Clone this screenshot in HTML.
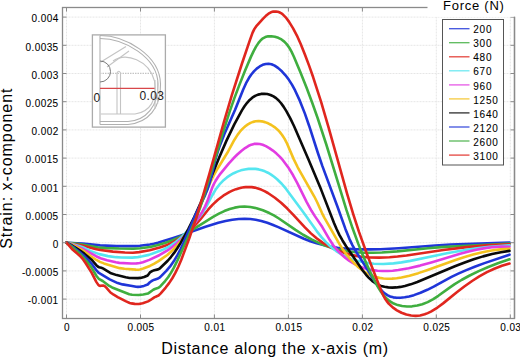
<!DOCTYPE html>
<html><head><meta charset="utf-8"><style>
html,body{margin:0;padding:0;background:#fff;width:520px;height:358px;overflow:hidden}
svg{display:block}
text{font-family:"Liberation Sans",sans-serif;fill:#000}
.tl{font-size:10px;letter-spacing:0.4px;stroke:#000;stroke-width:0.08px}
.ft{font-size:13px;letter-spacing:0.75px}
.ax{font-size:16px;letter-spacing:0.7px}
.grid{stroke:#e6e6e6;stroke-width:1;stroke-dasharray:2 1}
.tk{stroke:#8a8a8a;stroke-width:1}
.fr{stroke:#8a8a8a;stroke-width:1.3;fill:none}
.cv{fill:none;stroke-width:2.6;stroke-linejoin:round;stroke-linecap:round}
</style></head><body>
<svg width="520" height="358">
<rect width="520" height="358" fill="#fff"/>
<line x1="66.5" y1="7.5" x2="66.5" y2="318.5" class="grid"/><line x1="140.5" y1="7.5" x2="140.5" y2="318.5" class="grid"/><line x1="214.4" y1="7.5" x2="214.4" y2="318.5" class="grid"/><line x1="288.4" y1="7.5" x2="288.4" y2="318.5" class="grid"/><line x1="362.4" y1="7.5" x2="362.4" y2="318.5" class="grid"/><line x1="436.3" y1="7.5" x2="436.3" y2="318.5" class="grid"/><line x1="510.3" y1="7.5" x2="510.3" y2="318.5" class="grid"/><line x1="62.5" y1="17.1" x2="514.5" y2="17.1" class="grid"/><line x1="62.5" y1="45.3" x2="514.5" y2="45.3" class="grid"/><line x1="62.5" y1="73.5" x2="514.5" y2="73.5" class="grid"/><line x1="62.5" y1="101.7" x2="514.5" y2="101.7" class="grid"/><line x1="62.5" y1="129.9" x2="514.5" y2="129.9" class="grid"/><line x1="62.5" y1="158.1" x2="514.5" y2="158.1" class="grid"/><line x1="62.5" y1="186.3" x2="514.5" y2="186.3" class="grid"/><line x1="62.5" y1="214.5" x2="514.5" y2="214.5" class="grid"/><line x1="62.5" y1="242.7" x2="514.5" y2="242.7" class="grid"/><line x1="62.5" y1="270.9" x2="514.5" y2="270.9" class="grid"/><line x1="62.5" y1="299.1" x2="514.5" y2="299.1" class="grid"/>
<rect x="92.4" y="34.9" width="73" height="92.2" fill="#fff" stroke="#ababab" stroke-width="1.3"/><g fill="none" stroke="#b0b0b0" stroke-width="1.1"><line x1="100" y1="35.5" x2="100" y2="124.5"/><path d="M100,35.5 C125,35.5 160,55 160.5,84 C161,108 148,123 128,124.5 L100,124.5"/><path d="M100,38.5 C124,38.5 157.5,57 158,84 C158.5,106 146,120.5 128,121.5 L100,121.5"/></g><g fill="none" stroke="#c4c4c4" stroke-width="1.1"><path d="M113,61 C126,52 149,60 154.5,81 C157.5,100 150,112 135,114 L100,114"/><path d="M100,62.5 L126,46.5"/><path d="M107,67 L129,51"/><path d="M117,114 L117,73 Q118.8,69.5 120.5,73 L120.5,114"/><path d="M155,80 L155,109"/><path d="M157.6,80 L157.6,104"/><line x1="100" y1="73.4" x2="155" y2="73.4" stroke-dasharray="1.5 1"/><path d="M100,44 L100,120" stroke="#d8d8d8"/></g><path d="M100,61 A10.5,10.5 0 0 1 100,82" fill="none" stroke="#7a7a7a" stroke-width="1"/><line x1="100" y1="88.4" x2="154.6" y2="88.4" stroke="#d8474a" stroke-width="1.4"/><text x="93.4" y="101.7" style="font-size:12px;fill:#222">0</text><text x="139.6" y="100.3" style="font-size:12px;fill:#222;letter-spacing:0.3px">0.03</text>
<path d="M66.50,242.70 L82.70,243.58 L100.10,245.34 L116.70,246.16 L134.90,246.12 L139.90,245.72 L149.90,244.52 L153.90,243.78 L157.90,242.79 L173.30,237.96 L182.50,234.88 L205.50,226.73 L218.30,222.78 L225.50,221.01 L232.30,219.75 L238.70,219.01 L244.70,218.78 L250.30,219.01 L255.70,219.71 L261.30,220.94 L267.30,222.77 L272.50,224.69 L278.30,227.11 L303.90,238.75 L310.30,241.24 L316.70,243.33 L323.30,245.09 L330.30,246.57 L337.50,247.72 L345.10,248.57 L352.90,249.11 L361.30,249.40 L370.50,249.42 L380.50,249.18 L398.70,248.21 L435.30,245.45 L450.70,244.49 L509.50,242.61" stroke="#1f35d8" class="cv"/><path d="M66.50,242.70 L74.10,243.40 L82.50,244.43 L98.30,247.51 L106.30,248.11 L118.90,248.57 L133.50,248.78 L140.30,248.30 L150.10,247.01 L158.10,245.04 L165.70,242.68 L172.50,240.20 L178.90,237.36 L183.90,234.77 L189.50,231.54 L213.10,216.80 L218.90,213.63 L224.30,211.09 L229.70,209.04 L234.70,207.65 L239.70,206.80 L244.50,206.54 L250.30,206.95 L256.50,208.20 L262.90,210.25 L269.30,213.03 L273.90,215.47 L278.90,218.51 L295.50,229.91 L303.10,234.75 L311.50,239.45 L319.90,243.44 L326.90,246.19 L333.90,248.42 L341.10,250.15 L348.50,251.42 L356.10,252.25 L364.10,252.70 L372.70,252.78 L381.90,252.49 L397.10,251.40 L428.10,248.26 L441.30,247.15 L456.50,246.26 L491.90,244.66 L509.50,243.50" stroke="#3fae3f" class="cv"/><path d="M66.50,242.70 L82.30,245.55 L95.30,248.91 L100.30,249.97 L112.90,251.62 L124.90,252.48 L132.90,252.69 L139.10,252.14 L149.70,250.28 L159.70,247.58 L167.30,244.90 L173.70,241.85 L180.30,237.90 L186.50,233.30 L191.50,228.90 L196.10,224.21 L199.90,219.82 L208.30,209.48 L212.70,204.62 L217.90,199.81 L223.30,195.72 L229.70,191.91 L232.90,190.40 L236.10,189.16 L239.30,188.18 L242.30,187.52 L245.50,187.09 L248.50,186.95 L251.70,187.13 L254.70,187.60 L257.90,188.43 L261.10,189.59 L264.50,191.14 L267.90,193.01 L274.90,197.73 L281.10,202.78 L287.30,208.57 L293.10,214.55 L304.90,227.36 L310.90,233.36 L316.90,238.56 L322.90,242.89 L329.70,246.91 L336.90,250.34 L344.30,253.05 L352.10,255.13 L360.50,256.60 L369.50,257.43 L379.10,257.62 L389.50,257.18 L397.50,256.49 L406.50,255.43 L443.30,250.01 L464.70,247.36 L487.30,245.34 L509.50,244.20" stroke="#e0261e" class="cv"/><path d="M66.50,242.70 L73.10,244.12 L81.30,246.70 L83.90,247.74 L90.90,251.14 L99.30,254.11 L107.90,256.14 L116.10,257.17 L121.30,257.44 L132.10,257.60 L137.90,257.14 L142.50,256.32 L148.90,254.87 L160.10,250.82 L164.10,249.09 L167.70,247.27 L171.30,245.10 L174.90,242.64 L181.10,237.55 L187.70,230.77 L198.30,218.52 L201.70,214.16 L205.50,208.09 L212.30,195.26 L215.50,189.84 L219.50,184.40 L223.90,179.90 L226.90,177.45 L230.30,175.14 L233.70,173.23 L237.30,171.61 L240.90,170.36 L244.70,169.43 L248.50,168.88 L252.10,168.72 L255.50,168.91 L258.70,169.39 L261.90,170.21 L264.90,171.30 L267.90,172.73 L271.10,174.63 L274.10,176.76 L277.10,179.24 L281.70,183.72 L286.10,188.90 L303.70,212.79 L316.90,231.32 L321.90,237.61 L326.50,242.68 L329.70,245.77 L333.10,248.67 L336.30,251.04 L339.90,253.36 L343.90,255.57 L347.90,257.45 L352.10,259.13 L356.50,260.58 L364.90,262.58 L373.90,263.72 L383.30,263.97 L393.50,263.35 L401.50,262.36 L410.30,260.89 L446.90,253.32 L468.10,249.58 L478.90,248.04 L489.30,246.85 L499.50,245.97 L509.50,245.41" stroke="#55e6f0" class="cv"/><path d="M66.50,242.70 L73.50,244.87 L81.90,248.34 L96.10,256.22 L100.50,258.28 L107.10,260.22 L115.90,262.26 L119.30,262.86 L131.10,263.50 L136.50,263.37 L139.70,263.06 L142.90,262.20 L149.30,259.85 L159.70,254.95 L167.50,250.44 L172.50,246.79 L177.10,243.00 L181.30,239.12 L185.30,235.00 L189.10,230.66 L192.90,225.87 L199.30,216.63 L202.30,211.71 L204.50,207.66 L207.30,201.33 L212.30,187.50 L213.70,184.37 L215.50,180.99 L217.70,177.47 L220.50,173.58 L228.90,163.36 L233.30,158.53 L237.30,154.54 L241.30,150.98 L245.10,148.05 L248.30,146.05 L251.30,144.68 L254.10,143.91 L256.90,143.68 L259.70,143.96 L262.70,144.76 L265.90,146.14 L269.30,148.10 L272.90,150.61 L276.50,153.59 L279.70,156.67 L282.90,160.23 L288.10,167.16 L293.10,175.30 L297.30,183.18 L306.70,202.07 L311.50,210.78 L314.70,215.88 L322.30,227.07 L329.70,239.81 L333.10,244.98 L335.90,248.56 L338.90,251.89 L342.10,255.01 L345.50,257.93 L349.10,260.62 L352.70,262.94 L356.30,264.91 L360.10,266.63 L364.30,268.15 L368.50,269.30 L372.90,270.16 L377.50,270.73 L382.30,271.02 L387.50,271.00 L392.70,270.69 L398.30,270.07 L408.70,268.30 L420.10,265.62 L431.30,262.48 L460.10,253.79 L468.70,251.49 L476.30,249.73 L485.10,248.12 L493.50,247.08 L501.70,246.61 L509.50,246.72" stroke="#e23ce2" class="cv"/><path d="M66.50,242.70 L69.90,243.91 L73.50,245.46 L81.70,249.76 L84.30,251.46 L90.90,256.34 L96.50,259.98 L99.90,261.87 L103.90,263.40 L119.70,268.13 L124.50,268.73 L135.90,269.63 L138.10,269.70 L139.90,269.50 L143.30,268.54 L149.90,265.96 L153.90,263.89 L158.50,261.17 L167.30,254.97 L170.70,252.02 L174.10,248.73 L177.70,244.84 L181.30,240.49 L184.70,235.88 L187.70,231.34 L191.90,224.04 L195.90,215.95 L199.30,208.26 L208.10,187.18 L213.30,176.20 L217.50,168.70 L227.50,152.55 L234.30,139.94 L237.70,134.60 L240.10,131.49 L242.70,128.63 L245.30,126.27 L247.90,124.36 L250.50,122.90 L253.10,121.87 L255.70,121.26 L258.50,121.06 L261.70,121.35 L264.90,122.12 L268.10,123.33 L271.30,124.99 L274.50,127.12 L277.30,129.45 L279.70,131.91 L282.10,134.94 L284.50,138.67 L286.70,142.83 L293.70,159.13 L297.70,167.29 L314.30,196.54 L317.30,202.50 L321.90,212.82 L324.30,217.58 L339.90,244.89 L343.30,250.06 L346.70,254.70 L350.30,259.08 L353.90,262.98 L357.50,266.40 L361.30,269.53 L364.90,272.04 L368.70,274.21 L372.10,275.74 L375.70,276.97 L379.50,277.87 L383.50,278.45 L387.70,278.70 L392.10,278.62 L396.70,278.21 L401.50,277.48 L409.50,275.70 L418.30,273.13 L426.90,270.21 L455.50,259.91 L464.70,256.93 L473.10,254.51 L482.50,252.25 L491.50,250.56 L500.50,249.38 L509.50,248.70" stroke="#f4c21e" class="cv"/><path d="M66.50,242.70 L70.50,244.74 L74.90,247.30 L80.10,250.67 L84.30,253.67 L91.50,259.68 L96.30,265.16 L98.10,266.76 L99.10,267.27 L101.30,267.76 L102.90,268.42 L110.30,272.95 L116.70,275.11 L125.70,277.27 L129.50,277.95 L137.90,278.10 L140.50,277.89 L144.10,276.99 L147.70,275.44 L149.90,272.48 L152.50,270.89 L154.30,270.21 L158.10,269.38 L159.70,268.52 L167.70,260.74 L170.90,257.06 L174.10,252.91 L177.30,248.27 L180.70,242.84 L188.30,229.16 L194.30,217.01 L200.50,203.21 L219.30,157.29 L226.50,140.61 L234.30,124.32 L241.90,110.39 L244.50,106.29 L247.10,102.79 L249.70,99.94 L252.30,97.71 L255.10,95.92 L258.10,94.63 L261.10,93.92 L264.10,93.73 L267.30,94.07 L270.50,94.96 L273.50,96.37 L276.10,98.13 L278.70,100.49 L281.10,103.26 L283.70,106.88 L286.50,111.40 L290.30,118.35 L294.10,126.22 L308.50,159.40 L321.10,189.61 L333.90,222.77 L336.70,229.28 L339.50,235.07 L342.50,240.47 L346.10,246.22 L362.90,270.72 L366.10,274.79 L369.10,278.08 L372.10,280.83 L375.10,283.02 L377.90,284.59 L381.10,285.89 L384.50,286.81 L388.30,287.39 L392.30,287.59 L396.30,287.42 L400.50,286.90 L404.90,286.00 L410.70,284.36 L417.30,282.00 L454.90,266.32 L464.70,262.51 L473.70,259.32 L483.10,256.38 L492.10,254.02 L500.90,252.19 L509.50,250.90" stroke="#0a0a0a" class="cv"/><path d="M66.50,242.70 L70.30,244.98 L74.50,247.90 L79.30,251.67 L83.70,255.48 L87.30,259.06 L91.50,263.63 L96.70,270.68 L98.90,272.98 L109.70,279.38 L117.70,283.07 L122.50,284.39 L132.10,285.92 L136.10,286.75 L137.90,286.90 L140.30,286.72 L143.90,285.90 L147.70,284.45 L149.90,282.28 L152.30,280.69 L154.50,279.64 L158.10,278.51 L159.90,277.32 L166.30,270.85 L169.90,266.66 L173.90,261.05 L177.70,254.69 L180.50,249.29 L183.50,242.87 L194.90,216.17 L205.10,195.07 L207.50,189.24 L209.50,183.32 L211.30,176.70 L215.70,158.50 L217.70,151.81 L219.90,145.45 L224.30,134.34 L235.10,109.66 L243.10,89.78 L246.50,82.33 L248.90,78.03 L251.30,74.47 L253.90,71.34 L256.70,68.66 L259.70,66.43 L262.70,64.85 L265.70,63.93 L268.50,63.69 L271.50,64.21 L274.70,65.64 L278.30,68.14 L282.10,71.54 L285.50,75.30 L288.90,79.84 L292.10,84.91 L295.10,90.45 L299.90,100.91 L304.90,113.64 L309.10,125.71 L317.90,153.02 L322.30,165.89 L337.50,206.79 L345.50,229.16 L349.50,239.09 L352.50,245.34 L356.10,251.75 L368.10,270.45 L375.50,282.49 L377.90,286.02 L380.10,288.85 L382.30,291.25 L384.70,293.38 L387.30,295.15 L390.10,296.47 L393.30,297.36 L396.70,297.78 L400.50,297.77 L404.70,297.32 L409.10,296.45 L413.90,295.13 L420.50,292.78 L427.30,289.80 L433.70,286.55 L451.50,276.93 L458.30,273.65 L465.70,270.38 L474.70,266.75 L484.50,263.11 L509.50,254.70" stroke="#1f35d8" class="cv"/><path d="M66.50,242.70 L71.10,246.23 L76.70,250.95 L80.50,254.49 L83.70,257.86 L87.30,262.12 L91.50,267.57 L96.50,275.96 L98.50,278.54 L99.30,279.16 L102.70,280.99 L109.30,285.96 L112.10,287.48 L129.30,294.19 L132.10,294.71 L138.70,294.99 L143.30,294.58 L147.90,293.59 L153.30,289.73 L154.90,288.96 L158.50,287.77 L160.50,286.15 L165.10,281.05 L168.10,277.26 L171.10,272.66 L173.90,267.66 L177.70,259.86 L189.50,233.74 L196.50,217.29 L200.50,206.44 L204.50,194.25 L221.50,137.10 L229.50,112.08 L234.30,98.44 L239.50,84.60 L245.10,70.59 L250.90,56.88 L253.50,51.35 L255.90,46.92 L258.50,42.88 L260.70,40.22 L262.90,38.35 L265.30,37.10 L268.10,36.36 L271.30,36.19 L274.90,36.68 L278.30,37.78 L281.50,39.46 L284.30,41.62 L286.90,44.38 L289.30,47.74 L291.50,51.61 L293.90,56.69 L300.30,71.97 L306.50,87.58 L312.30,103.02 L317.70,118.25 L326.30,144.50 L346.50,210.18 L352.50,228.06 L358.30,243.89 L362.30,253.94 L366.50,263.76 L370.90,273.32 L375.30,282.21 L378.30,287.67 L381.10,292.06 L383.90,295.72 L386.90,298.87 L390.10,301.46 L393.70,303.56 L397.70,305.09 L402.10,306.07 L406.90,306.50 L412.10,306.33 L417.30,305.56 L422.30,304.24 L427.70,302.10 L433.30,299.09 L438.30,295.82 L449.30,287.83 L454.70,284.16 L461.90,279.76 L469.70,275.51 L478.70,271.14 L488.30,267.00 L498.50,263.08 L509.50,259.30" stroke="#3fae3f" class="cv"/><path d="M66.50,242.70 L71.90,248.90 L79.70,255.65 L83.10,259.45 L85.70,263.23 L91.70,272.84 L96.30,281.87 L98.30,284.86 L99.10,285.56 L99.90,285.89 L103.10,285.50 L104.50,285.97 L106.10,287.39 L110.50,292.48 L113.70,294.71 L117.70,297.04 L126.10,301.42 L129.70,302.93 L131.50,303.41 L134.70,303.89 L138.90,304.05 L142.70,303.31 L148.10,301.39 L150.50,299.99 L154.30,297.36 L158.50,295.46 L160.50,293.64 L165.70,287.55 L169.10,283.13 L172.30,278.26 L175.30,272.93 L178.30,266.76 L181.30,259.75 L189.30,238.37 L196.10,218.15 L203.10,195.46 L209.30,174.03 L223.90,122.00 L231.70,95.64 L241.90,63.77 L249.90,40.07 L252.50,32.87 L254.30,29.10 L256.10,26.42 L263.10,18.64 L265.90,15.81 L268.50,13.71 L270.90,12.36 L273.30,11.61 L275.90,11.44 L277.70,11.70 L279.30,12.23 L280.90,13.05 L282.50,14.17 L285.70,17.34 L289.10,21.90 L293.10,28.36 L296.90,35.57 L300.70,43.97 L304.90,54.42 L309.10,65.65 L313.10,77.04 L321.10,101.92 L328.70,127.87 L347.30,194.39 L353.30,214.34 L358.90,231.64 L366.90,254.02 L381.50,291.53 L383.10,295.09 L384.90,298.44 L386.70,301.15 L388.90,303.82 L392.70,307.37 L396.90,310.33 L401.50,312.73 L406.30,314.49 L411.10,315.53 L415.70,315.85 L420.10,315.45 L424.70,314.29 L427.70,313.14 L430.90,311.60 L437.50,307.54 L443.10,303.38 L456.50,292.54 L464.30,286.52 L472.10,280.98 L479.30,276.39 L486.90,272.18 L494.30,268.73 L501.90,265.82 L509.50,263.54" stroke="#e0261e" class="cv"/>
<rect x="62.5" y="7.5" width="452.0" height="311.0" fill="none" class="fr"/>
<line x1="66.5" y1="318.5" x2="66.5" y2="314.5" class="tk"/><line x1="66.5" y1="7.5" x2="66.5" y2="11.5" class="tk"/><line x1="140.5" y1="318.5" x2="140.5" y2="314.5" class="tk"/><line x1="140.5" y1="7.5" x2="140.5" y2="11.5" class="tk"/><line x1="214.4" y1="318.5" x2="214.4" y2="314.5" class="tk"/><line x1="214.4" y1="7.5" x2="214.4" y2="11.5" class="tk"/><line x1="288.4" y1="318.5" x2="288.4" y2="314.5" class="tk"/><line x1="288.4" y1="7.5" x2="288.4" y2="11.5" class="tk"/><line x1="362.4" y1="318.5" x2="362.4" y2="314.5" class="tk"/><line x1="362.4" y1="7.5" x2="362.4" y2="11.5" class="tk"/><line x1="436.3" y1="318.5" x2="436.3" y2="314.5" class="tk"/><line x1="436.3" y1="7.5" x2="436.3" y2="11.5" class="tk"/><line x1="510.3" y1="318.5" x2="510.3" y2="314.5" class="tk"/><line x1="510.3" y1="7.5" x2="510.3" y2="11.5" class="tk"/><line x1="62.5" y1="17.1" x2="66.5" y2="17.1" class="tk"/><line x1="514.5" y1="17.1" x2="510.5" y2="17.1" class="tk"/><line x1="62.5" y1="45.3" x2="66.5" y2="45.3" class="tk"/><line x1="514.5" y1="45.3" x2="510.5" y2="45.3" class="tk"/><line x1="62.5" y1="73.5" x2="66.5" y2="73.5" class="tk"/><line x1="514.5" y1="73.5" x2="510.5" y2="73.5" class="tk"/><line x1="62.5" y1="101.7" x2="66.5" y2="101.7" class="tk"/><line x1="514.5" y1="101.7" x2="510.5" y2="101.7" class="tk"/><line x1="62.5" y1="129.9" x2="66.5" y2="129.9" class="tk"/><line x1="514.5" y1="129.9" x2="510.5" y2="129.9" class="tk"/><line x1="62.5" y1="158.1" x2="66.5" y2="158.1" class="tk"/><line x1="514.5" y1="158.1" x2="510.5" y2="158.1" class="tk"/><line x1="62.5" y1="186.3" x2="66.5" y2="186.3" class="tk"/><line x1="514.5" y1="186.3" x2="510.5" y2="186.3" class="tk"/><line x1="62.5" y1="214.5" x2="66.5" y2="214.5" class="tk"/><line x1="514.5" y1="214.5" x2="510.5" y2="214.5" class="tk"/><line x1="62.5" y1="242.7" x2="66.5" y2="242.7" class="tk"/><line x1="514.5" y1="242.7" x2="510.5" y2="242.7" class="tk"/><line x1="62.5" y1="270.9" x2="66.5" y2="270.9" class="tk"/><line x1="514.5" y1="270.9" x2="510.5" y2="270.9" class="tk"/><line x1="62.5" y1="299.1" x2="66.5" y2="299.1" class="tk"/><line x1="514.5" y1="299.1" x2="510.5" y2="299.1" class="tk"/>
<rect x="427.5" y="0" width="92" height="16.8" fill="#fff"/>
<line x1="514.5" y1="16.8" x2="514.5" y2="318.5" class="fr"/>
<rect x="442.5" y="19.5" width="61" height="145.5" fill="#fff" stroke="#555" stroke-width="1"/><line x1="449" y1="28.7" x2="469.5" y2="28.7" stroke="#1f35d8" stroke-width="1.3" opacity="0.85"/><text x="473.3" y="33.3" class="tl" style="letter-spacing:0.75px">200</text><line x1="449" y1="42.7" x2="469.5" y2="42.7" stroke="#3fae3f" stroke-width="1.3" opacity="0.85"/><text x="473.3" y="47.3" class="tl" style="letter-spacing:0.75px">300</text><line x1="449" y1="56.8" x2="469.5" y2="56.8" stroke="#e0261e" stroke-width="1.3" opacity="0.85"/><text x="473.3" y="61.4" class="tl" style="letter-spacing:0.75px">480</text><line x1="449" y1="70.8" x2="469.5" y2="70.8" stroke="#55e6f0" stroke-width="1.3" opacity="0.85"/><text x="473.3" y="75.4" class="tl" style="letter-spacing:0.75px">670</text><line x1="449" y1="84.9" x2="469.5" y2="84.9" stroke="#e23ce2" stroke-width="1.3" opacity="0.85"/><text x="473.3" y="89.5" class="tl" style="letter-spacing:0.75px">960</text><line x1="449" y1="98.9" x2="469.5" y2="98.9" stroke="#f4c21e" stroke-width="1.3" opacity="0.85"/><text x="473.3" y="103.5" class="tl" style="letter-spacing:0.75px">1250</text><line x1="449" y1="112.9" x2="469.5" y2="112.9" stroke="#0a0a0a" stroke-width="1.3" opacity="0.85"/><text x="473.3" y="117.5" class="tl" style="letter-spacing:0.75px">1640</text><line x1="449" y1="127.0" x2="469.5" y2="127.0" stroke="#1f35d8" stroke-width="1.3" opacity="0.85"/><text x="473.3" y="131.6" class="tl" style="letter-spacing:0.75px">2120</text><line x1="449" y1="141.0" x2="469.5" y2="141.0" stroke="#3fae3f" stroke-width="1.3" opacity="0.85"/><text x="473.3" y="145.6" class="tl" style="letter-spacing:0.75px">2600</text><line x1="449" y1="155.1" x2="469.5" y2="155.1" stroke="#e0261e" stroke-width="1.3" opacity="0.85"/><text x="473.3" y="159.7" class="tl" style="letter-spacing:0.75px">3100</text>
<text x="443" y="10.4" class="ft">Force (N)</text>
<text x="67.0" y="330.8" class="tl" text-anchor="middle">0</text><text x="141.0" y="330.8" class="tl" text-anchor="middle">0.005</text><text x="214.9" y="330.8" class="tl" text-anchor="middle">0.01</text><text x="288.9" y="330.8" class="tl" text-anchor="middle">0.015</text><text x="362.9" y="330.8" class="tl" text-anchor="middle">0.02</text><text x="436.8" y="330.8" class="tl" text-anchor="middle">0.025</text><text x="510.8" y="330.8" class="tl" text-anchor="middle">0.03</text><text x="58.6" y="22.3" class="tl" text-anchor="end">0.004</text><text x="58.6" y="50.5" class="tl" text-anchor="end">0.0035</text><text x="58.6" y="78.7" class="tl" text-anchor="end">0.003</text><text x="58.6" y="106.9" class="tl" text-anchor="end">0.0025</text><text x="58.6" y="135.1" class="tl" text-anchor="end">0.002</text><text x="58.6" y="163.3" class="tl" text-anchor="end">0.0015</text><text x="58.6" y="191.5" class="tl" text-anchor="end">0.001</text><text x="58.6" y="219.7" class="tl" text-anchor="end">0.0005</text><text x="58.6" y="247.9" class="tl" text-anchor="end">0</text><text x="58.6" y="276.1" class="tl" text-anchor="end">-0.0005</text><text x="58.6" y="304.3" class="tl" text-anchor="end">-0.001</text>
<text x="275" y="354" class="ax" text-anchor="middle">Distance along the x-axis (m)</text>
<text transform="translate(11.9,168.2) rotate(-90)" class="ax" style="letter-spacing:0.95px" text-anchor="middle">Strain: x-component</text>
</svg>
</body></html>
